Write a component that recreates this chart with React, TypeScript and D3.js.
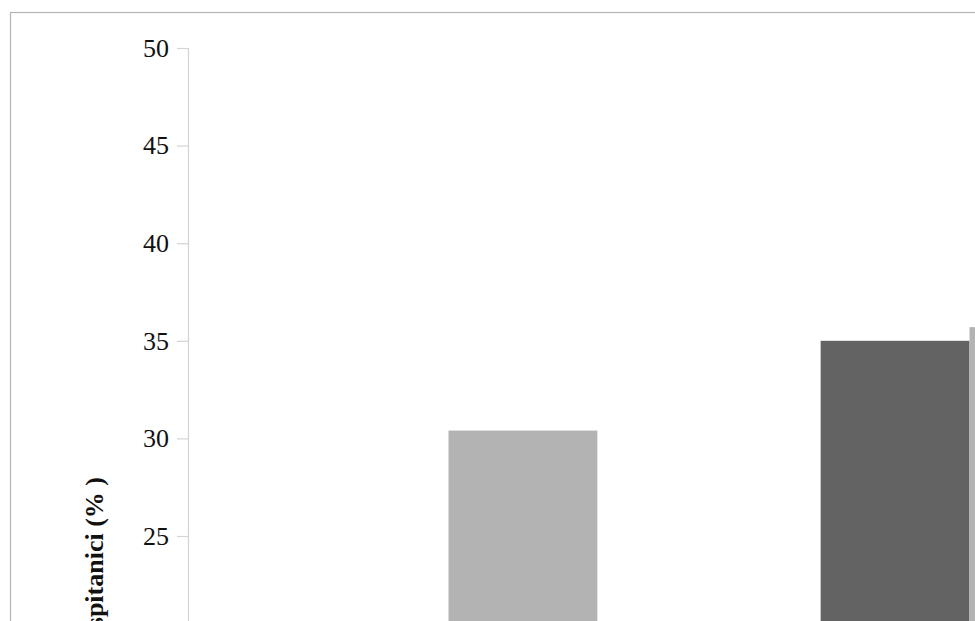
import { useEffect, useRef } from 'react'
import * as d3 from 'd3'

// values (first bar of group 1 is below the visible area)
const categories = ['Grupa 1', 'Grupa 2']
const seriesNames = ['Seria 1', 'Seria 2']
const seriesDark = [18.0, 35.0]
const seriesLight = [30.4, 35.7]
const yTicks = [25, 30, 35, 40, 45, 50]
const seriesColors = ['#636363', '#b3b3b3']

export default function App() {
  const svgRef = useRef<SVGSVGElement>(null)

  useEffect(() => {
    if (!svgRef.current) return
    const svg = d3.select(svgRef.current)
    svg.selectAll('*').remove()

    const width = 975
    const height = 621

    svg.attr('width', width).attr('height', height)

    svg.append('rect')
      .attr('width', width)
      .attr('height', height)
      .attr('fill', '#ffffff')

    // chart border, continues past the right and bottom edges
    svg.append('rect')
      .attr('x', 10.5)
      .attr('y', 12.5)
      .attr('width', 1400)
      .attr('height', 1200)
      .attr('fill', 'none')
      .attr('stroke', '#b4b4b4')
      .attr('stroke-width', 1.2)

    const axisX = 188
    const catStep = 521

    const yScale = d3.scaleLinear().domain([0, 50]).range([1024, 48])

    const x0 = d3
      .scaleBand<string>()
      .domain(categories)
      .range([axisX, axisX + catStep * categories.length])
      .padding(0)

    const x1 = d3
      .scaleBand<string>()
      .domain(seriesNames)
      .range([0, x0.bandwidth()])
      .paddingInner(0)
      .paddingOuter(0.75)

    const rows = categories.map((c, i) => ({
      category: c,
      values: [seriesDark[i], seriesLight[i]],
    }))

    // bars
    const groups = svg
      .append('g')
      .selectAll('g')
      .data(rows)
      .join('g')
      .attr('transform', (d) => `translate(${x0(d.category)},0)`)

    groups
      .selectAll('rect')
      .data((d) => d.values.map((v, j) => ({ name: seriesNames[j], value: v, j })))
      .join('rect')
      .attr('x', (d) => x1(d.name) as number)
      .attr('y', (d) => yScale(d.value))
      .attr('width', x1.bandwidth())
      .attr('height', (d) => yScale(0) - yScale(d.value))
      .attr('fill', (d) => seriesColors[d.j])

    // Y axis (ticks below 25 fall outside the visible area)
    const yAxis = d3
      .axisLeft(yScale)
      .tickValues(yTicks)
      .tickSize(11)
      .tickPadding(8)
      .tickFormat((d) => String(d))

    const gy = svg
      .append('g')
      .attr('transform', `translate(${axisX},0)`)
      .call(yAxis)

    gy.select('.domain').attr('stroke', '#d4d4d4').attr('stroke-width', 1.2)
    gy.selectAll('.tick line').attr('stroke', '#d4d4d4').attr('stroke-width', 1.2)
    gy.selectAll('.tick text')
      .attr('fill', '#111')
      .attr('font-family', '"Liberation Serif", "DejaVu Serif", serif')
      .attr('font-size', '26px')

    // Y axis title
    svg.append('text')
      .attr('transform', 'translate(103,477) rotate(-90)')
      .attr('text-anchor', 'end')
      .attr('fill', '#111')
      .attr('font-family', '"Liberation Serif", "DejaVu Serif", serif')
      .attr('font-weight', 'bold')
      .attr('font-size', '26px')
      .text('Ospitanici (% )')
  }, [])

  return (
    <div style={{ position: 'absolute', top: 0, left: 0 }}>
      <svg ref={svgRef} style={{ display: 'block' }} />
    </div>
  )
}
